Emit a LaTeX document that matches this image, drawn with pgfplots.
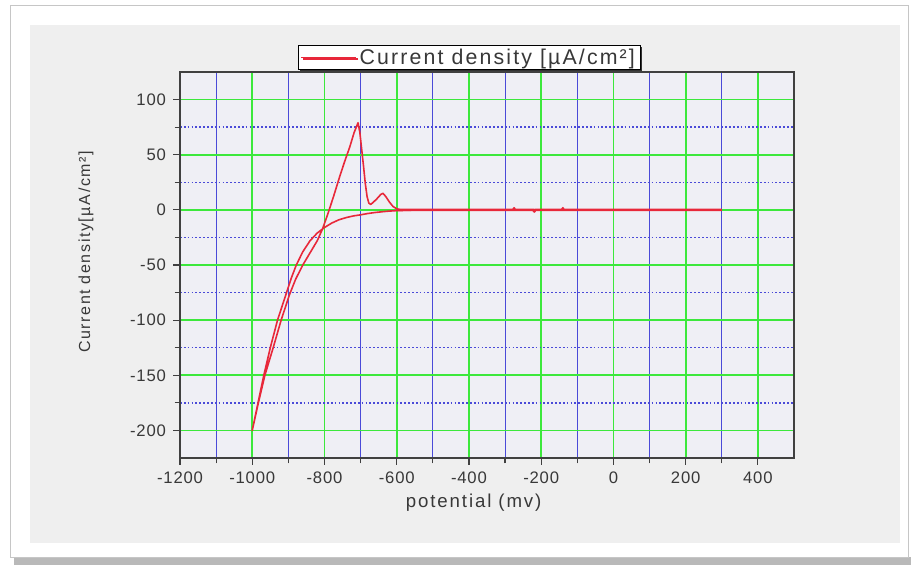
\documentclass[border=0pt]{standalone}
\usepackage{pgfplots}
\pgfplotsset{compat=1.18}
\usepackage{fontspec}
\setmainfont{Liberation Sans}[LetterSpace=5]
\newfontfamily\legendfont{Liberation Sans}[LetterSpace=10]
\newfontfamily\labelfont{Liberation Sans}[LetterSpace=10]
\usetikzlibrary{shadows}
\definecolor{panel}{HTML}{EFEFEF}
\definecolor{plotbg}{HTML}{EFEFF5}
\definecolor{gridgreen}{HTML}{3CE83C}
\definecolor{gridblue}{HTML}{4A4AD8}
\definecolor{curve}{HTML}{E8283A}
\definecolor{txt}{HTML}{383838}
\definecolor{axline}{HTML}{404040}

% flat region where several sweeps lie on top of each other
\pgfplotstableread{
x y
300 0
-130 0
-139 0
-140 1.5
-141 0
-217 0
-219 -1.5
-221 0
-274 0
-275 1.5
-276 0
-600 0
}\flat

% return branch down to -1000 mV, forward branch up to the oxidation peak
\pgfplotstableread{
x y
-520 0
-560 -0.3
-600 -0.7
-620 -1.1
-640 -1.7
-660 -2.4
-680 -3.3
-700 -4.5
-720 -5.5
-740 -7
-760 -9
-780 -12
-800 -16
-820 -21
-840 -28
-860 -38
-878 -50
-892 -62
-905 -75
-918 -88
-930 -100
-950 -125
-968 -150
-984 -175
-1000 -200
-983 -175
-965 -150
-942 -125
-920 -100
-897 -77
-880 -63
-860 -50
-840 -39
-820 -28
-805 -17
-790 -3
-775 12
-758 30
-745 43
-730 57
-718 70
-707 79
-702 70
-697 55
-692 40
-687 24
-682 12
-677 6
-672 5
-666 6.5
-655 10
-644 14
-638 15
-630 12
-620 7
-610 3
-600 1
-590 0
-520 0
}\sweep

\begin{document}
\begin{tikzpicture}
\begin{scope}[x=0.75pt,y=-0.75pt]
  \fill[white] (0,0) rectangle (911,565);
  \fill[gray!55] (14,557) rectangle (911,565);
  \draw[gray!45, line width=0.75pt] (10,5) rectangle (908,557);
  \fill[panel] (30,25) rectangle (900,543);
  \coordinate (axsw) at (180,458);
  \coordinate (ylab) at (86,252);
\end{scope}
\begin{axis}[
  at={(axsw)}, anchor=south west, scale only axis,
  width=460.5pt, height=289.5pt,
  xmin=-1200, xmax=500, ymin=-225, ymax=125,
  xtick={-1200,-1000,...,400}, ytick={-200,-150,...,100},
  minor x tick num=1, minor y tick num=1,
  grid=both,
  major x grid style={gridgreen, line width=1.3pt},
  major y grid style={gridgreen, line width=1.3pt},
  minor x grid style={gridblue, line width=0.6pt},
  minor y grid style={gridblue, line width=1pt, dash pattern=on 1.3pt off 1.6pt},
  axis background/.style={fill=plotbg},
  axis line style={axline, line width=1.5pt},
  tick style={axline, line width=0.9pt},
  tick align=outside, tick pos=left,
  major tick length=5pt, minor tick length=4pt,
  tick label style={font=\fontsize{12.5}{14}\selectfont, text=txt},
  xticklabel style={yshift=-2pt},
  yticklabel style={xshift=-2pt},
  /pgf/number format/assume math mode=true,
  /pgf/number format/set thousands separator={},
  xlabel={potential (mv)},
  xlabel style={font=\labelfont\fontsize{14}{16}\selectfont, text=txt, yshift=-1pt, xshift=-10pt},
  legend style={at={(0.471,1.005)}, anchor=south, draw=black, line width=0.8pt,
    fill=white, font=\legendfont\fontsize{16}{18}\selectfont, text=txt,
    inner xsep=2pt, inner ysep=0.5pt,
    drop shadow={shadow xshift=1.2pt, shadow yshift=-1.2pt, fill=black!80, opacity=1}},
  legend image code/.code={\draw[#1, line width=0.9pt] (0cm,0cm) -- (1.45cm,0cm);},
]
\addplot[curve, line width=1.2pt, line join=round] table {\sweep};
\addlegendentry{Current density [µA/cm²]}
\addplot[curve, line width=2pt, line join=round, forget plot] table {\flat};
\end{axis}
\node[rotate=90, font=\labelfont\fontsize{12}{14}\selectfont, text=txt] at (ylab) {Current density[µA/cm²]};
\end{tikzpicture}
\end{document}
